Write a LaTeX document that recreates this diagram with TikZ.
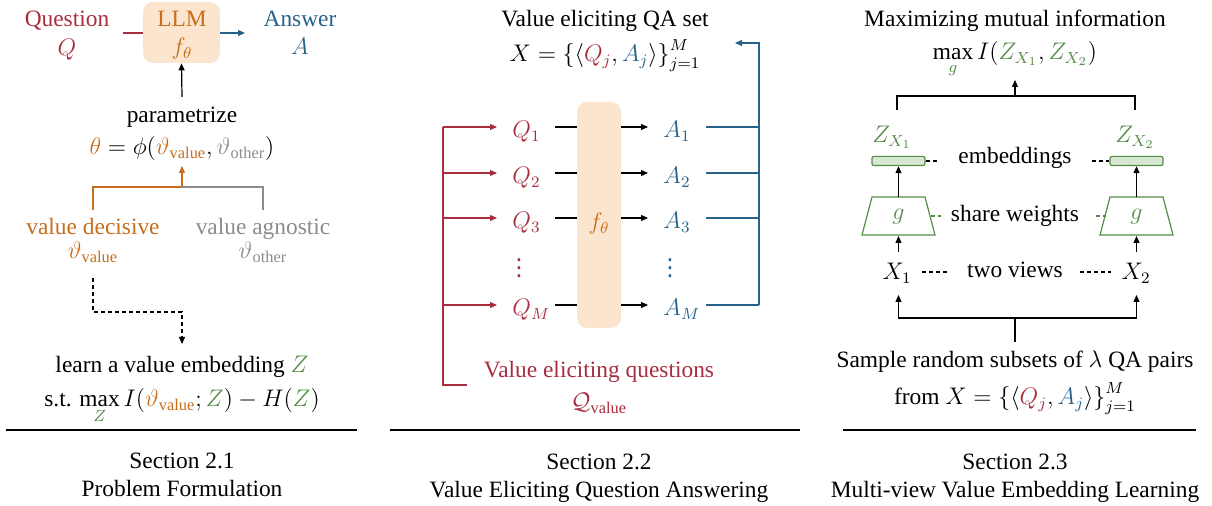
\documentclass[tikz,border=0pt]{standalone}
\usepackage{fontspec}
\setmainfont{Liberation Serif}
\newfontfamily\djv{DejaVu Sans}
\usetikzlibrary{arrows.meta}
\definecolor{qred}{RGB}{168,45,62}
\definecolor{ablue}{RGB}{38,98,138}
\definecolor{orng}{RGB}{198,110,28}
\definecolor{boxor}{RGB}{252,229,206}
\definecolor{zgreen}{RGB}{84,140,72}
\definecolor{embg}{RGB}{214,232,210}
\definecolor{grayc}{RGB}{140,140,140}
\newcommand\fsz{\fontsize{11.7}{14}\selectfont}
\newcommand\qaset{X=\bigl\{\bigl\langle\textcolor{qred}{Q_j},\textcolor{ablue}{A_j}\bigr\rangle\bigr\}_{j=1}^{M}}
\begin{document}
\begin{tikzpicture}[x=0.5pt,y=-0.5pt,
  every node/.style={inner sep=0pt,font=\fsz},
  lbl/.style={anchor=base},
  arr/.style={-{Triangle[length=3.5pt,width=3pt]},line width=0.6pt},
  ln/.style={line width=0.6pt},
  dsh/.style={line width=0.6pt,dash pattern=on 2pt off 1.5pt}]
\useasboundingbox (0,0) rectangle (1212,506);

% ---------------- Panel 1 ----------------
\node[fill=boxor,rounded corners=5pt,minimum width=38.5pt,minimum height=30.5pt] (llm) at (181.5,32.5) {};
\node[lbl,text=orng] (llmt) at (182,27) {LLM};
\node[lbl,text=orng] (ft) at (182,55) {$f_\theta$};
\node[lbl,text=qred] (qt) at (67,27) {Question};
\node[lbl,text=qred] (q) at (67,56) {$Q$};
\node[lbl,text=ablue] (at) at (300,27) {Answer};
\node[lbl,text=ablue] (a) at (300,55) {$A$};
\coordinate (qend) at (123,33);
\coordinate (aend) at (245,33);
\draw[ln,qred] (qend) -- (llm.west |- qend);
\draw[arr,ablue] (llm.east |- qend) -- (aend);
\coordinate (pstart) at (182,97);
\draw[arr] (pstart) -- (llm.south);
\node[lbl] (param) at (182,123) {parametrize};
\node[lbl] (theta) at (182,155) {$\textcolor{orng}{\theta}=\phi(\textcolor{orng}{\vartheta_{\mathrm{value}}},\textcolor{grayc}{\vartheta_{\mathrm{other}}})$};
\coordinate (jn) at (182,187);
\coordinate (jtip) at (182,166);
\coordinate (vdtop) at (93,210);
\coordinate (vatop) at (263,210);
\draw[arr,orng] (jn) -- (jtip);
\draw[ln,orng] (vdtop) |- (jn);
\draw[ln,grayc] (jn) -| (vatop);
\node[lbl,text=orng] (vd) at (93,235) {value decisive};
\node[lbl,text=orng] (vdv) at (93,259) {$\vartheta_{\mathrm{value}}$};
\node[lbl,text=grayc] (va) at (263,235) {value agnostic};
\node[lbl,text=grayc] (vav) at (263,259) {$\vartheta_{\mathrm{other}}$};
\coordinate (ds) at (93,278);
\coordinate (dm) at (93,312);
\coordinate (dt) at (182,344);
\draw[dsh,-{Triangle[length=3.5pt,width=3pt]}] (ds) -- (dm) -| (dt);
\node[lbl] (learn) at (182,373) {learn a value embedding \textcolor{zgreen}{$Z$}};
\node[lbl] (st) at (182,407) {s.t. $\max\limits_{\textcolor{zgreen}{Z}} I(\textcolor{orng}{\vartheta_{\mathrm{value}}};\textcolor{zgreen}{Z})-H(\textcolor{zgreen}{Z})$};
\coordinate (r1a) at (6,430);
\coordinate (r1b) at (357,430);
\draw[ln] (r1a) -- (r1b);
\node[lbl] (s1) at (182,469) {Section 2.1};
\node[lbl] (s1t) at (182,497) {Problem Formulation};

% ---------------- Panel 2 ----------------
\node[lbl] (qa) at (605,27) {Value eliciting QA set};
\node[lbl] (xset) at (605,62) {$\qaset$};
\node[fill=boxor,rounded corners=5pt,minimum width=22pt,minimum height=113pt] (fbox) at (599,215) {};
\node[lbl,text=orng] (fth) at (599,230) {$f_\theta$};
\foreach \n/\y in {1/127,2/173,3/218,M/305}{
  \node[lbl,anchor=base west,text=qred] (Q\n) at (512,{\y+11}) {$Q_{\n}$};
  \node[lbl,anchor=base west,text=ablue] (A\n) at (663,{\y+11}) {$A_{\n}$};
  \coordinate (qb\n) at (443,\y);
  \coordinate (qi\n) at (497,\y);
  \coordinate (qo\n) at (555,\y);
  \coordinate (ao\n) at (648,\y);
  \coordinate (ab\n) at (706,\y);
  \coordinate (be\n) at (759,\y);
  \draw[arr,qred] (qb\n) -- (qi\n);
  \draw[ln] (qo\n) -- (fbox.west |- qo\n);
  \draw[arr] (fbox.east |- qo\n) -- (ao\n);
  \draw[ln,ablue] (ab\n) -- (be\n);
}
\node[text=qred,font=\fsz\djv] (qdots) at (519,268) {⋮};
\node[text=ablue,font=\fsz\djv] (adots) at (670,268) {⋮};
\coordinate (btop) at (759,43);
\coordinate (btip) at (735,43);
\draw[arr,ablue] (beM) -- (btop) -- (btip);
\coordinate (rbot) at (443,385);
\coordinate (rend) at (467,385);
\draw[ln,qred] (qb1) -- (rbot) -- (rend);
\node[lbl,text=qred] (veq) at (599,378) {Value eliciting questions};
\node[lbl,text=qred] (qv) at (599,410) {$\mathcal{Q}_{\mathrm{value}}$};
\coordinate (r2a) at (390,430);
\coordinate (r2b) at (800,430);
\draw[ln] (r2a) -- (r2b);
\node[lbl] (s2) at (599,470) {Section 2.2};
\node[lbl] (s2t) at (599,498) {Value Eliciting Question Answering};

% ---------------- Panel 3 ----------------
\node[lbl] (mmi) at (1015,27) {Maximizing mutual information};
\node[lbl] (maxI) at (1015,60) {$\max\limits_{\textcolor{zgreen}{g}} I(\textcolor{zgreen}{Z_{X_1}},\textcolor{zgreen}{Z_{X_2}})$};
\coordinate (tj) at (1015,96);
\coordinate (tt) at (1015,80);
\coordinate (tl) at (897,110);
\coordinate (tr) at (1135,110);
\draw[arr] (tj) -- (tt);
\draw[ln] (tl) |- (tj) -| (tr);
\node[lbl,text=zgreen] (z1) at (892,143) {$Z_{X_1}$};
\node[lbl,text=zgreen] (z2) at (1135,143) {$Z_{X_2}$};
\node[draw=zgreen,fill=embg,line width=0.6pt,rounded corners=1pt,minimum width=26.5pt,minimum height=4.6pt] (e1) at (898.5,161) {};
\node[draw=zgreen,fill=embg,line width=0.6pt,rounded corners=1pt,minimum width=26.5pt,minimum height=4.6pt] (e2) at (1136.5,161) {};
\node[lbl] (emb) at (1015,164) {embeddings};
\coordinate (ed1) at (939,161);
\coordinate (ed2) at (1092,161);
\draw[dsh] (e1.east) -- (ed1);
\draw[dsh] (ed2) -- (e2.west);
\draw[ln,zgreen] (872,197) -- (925,197) -- (935,235) -- (862,235) -- cycle;
\draw[ln,zgreen] (1110,197) -- (1163,197) -- (1173,235) -- (1100,235) -- cycle;
\node[text=zgreen] (g1) at (898.5,217) {$g$};
\node[text=zgreen] (g2) at (1136.5,217) {$g$};
\coordinate (g1t) at (898.5,197);
\coordinate (g2t) at (1136.5,197);
\draw[arr] (g1t) -- (e1.south);
\draw[arr] (g2t) -- (e2.south);
\node[lbl] (sw) at (1015,222) {share weights};
\coordinate (gd1a) at (931,216);
\coordinate (gd1b) at (941,216);
\coordinate (gd2a) at (1096,216);
\coordinate (gd2b) at (1106,216);
\draw[dsh,zgreen] (gd1a) -- (gd1b);
\draw[dsh,zgreen] (gd2a) -- (gd2b);
\node[lbl] (x1) at (897,280) {$X_1$};
\node[lbl] (x2) at (1136,280) {$X_2$};
\coordinate (x1t) at (898.5,252);
\coordinate (x2t) at (1136.5,252);
\coordinate (g1b) at (898.5,236);
\coordinate (g2b) at (1136.5,236);
\draw[arr] (x1t) -- (g1b);
\draw[arr] (x2t) -- (g2b);
\node[lbl] (tv) at (1015,278) {two views};
\coordinate (v1a) at (922,272);
\coordinate (v1b) at (948,272);
\coordinate (v2a) at (1080,272);
\coordinate (v2b) at (1111,272);
\draw[dsh] (v1a) -- (v1b);
\draw[dsh] (v2a) -- (v2b);
\coordinate (bj) at (1015,318);
\coordinate (bs) at (1015,342);
\coordinate (x1b) at (898.5,295);
\coordinate (x2b) at (1136.5,295);
\draw[ln] (bs) -- (bj);
\draw[arr] (bj) -| (x1b);
\draw[arr] (bj) -| (x2b);
\node[lbl] (samp) at (1015,368) {Sample random subsets of $\lambda$ QA pairs};
\node[lbl] (from) at (1015,405) {from $\qaset$};
\coordinate (r3a) at (843,430);
\coordinate (r3b) at (1196,430);
\draw[ln] (r3a) -- (r3b);
\node[lbl] (s3) at (1015,470) {Section 2.3};
\node[lbl] (s3t) at (1015,498) {Multi-view Value Embedding Learning};
\end{tikzpicture}
\end{document}
